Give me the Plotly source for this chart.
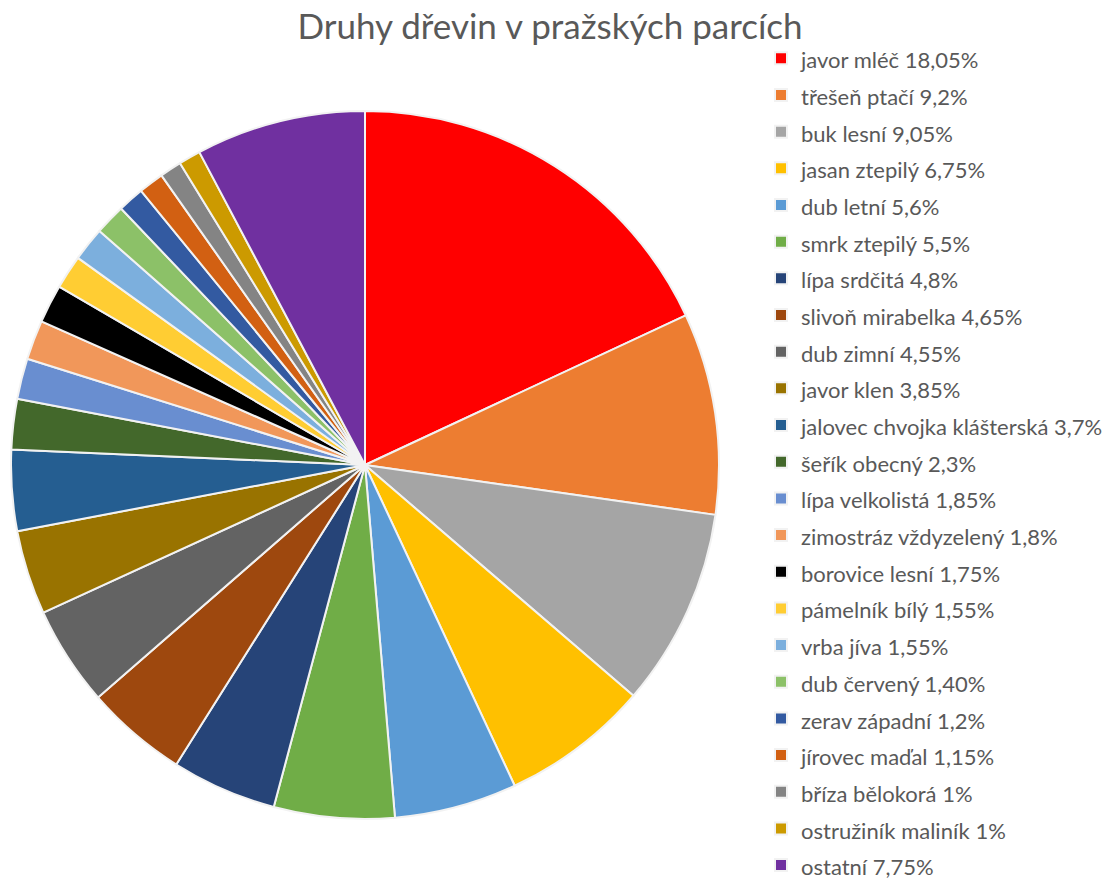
import plotly.graph_objects as go

species = [
    'javor mléč', 'třešeň ptačí', 'buk lesní', 'jasan ztepilý', 'dub letní',
    'smrk ztepilý', 'lípa srdčitá', 'slivoň mirabelka', 'dub zimní', 'javor klen',
    'jalovec chvojka klášterská', 'šeřík obecný', 'lípa velkolistá',
    'zimostráz vždyzelený', 'borovice lesní', 'pámelník bílý', 'vrba jíva',
    'dub červený', 'zerav západní', 'jírovec maďal', 'bříza bělokorá',
    'ostružiník maliník', 'ostatní',
]
shares = [18.05, 9.2, 9.05, 6.75, 5.6, 5.5, 4.8, 4.65, 4.55, 3.85, 3.7, 2.3,
          1.85, 1.8, 1.75, 1.55, 1.55, 1.40, 1.2, 1.15, 1, 1, 7.75]
share_text = ['18,05%', '9,2%', '9,05%', '6,75%', '5,6%', '5,5%', '4,8%', '4,65%',
              '4,55%', '3,85%', '3,7%', '2,3%', '1,85%', '1,8%', '1,75%', '1,55%',
              '1,55%', '1,40%', '1,2%', '1,15%', '1%', '1%', '7,75%']
colors = ['#FF0000', '#ED7D31', '#A5A5A5', '#FFC000', '#5B9BD5', '#70AD47',
          '#264478', '#9E480E', '#636363', '#997300', '#255E91', '#43682B',
          '#698ED0', '#F1975A', '#000000', '#FFCD33', '#7CAFDD', '#8CC168',
          '#335AA1', '#D26012', '#848484', '#CC9A00', '#7030A0']

W, H = 1114, 881

# legend row height comes from the legend font size, the visible text is smaller
labels = [f'<span style="font-size:22px">{s} {t}</span>' for s, t in zip(species, share_text)]

fig = go.Figure(go.Pie(
    labels=labels,
    values=shares,
    sort=False,
    direction='clockwise',
    rotation=0,
    textinfo='none',
    hovertemplate='%{label}<extra></extra>',
    marker=dict(colors=colors, line=dict(color='#F2F2F2', width=2)),
    domain=dict(x=[2 / W, 712 / W], y=[1 - 811 / H, 1 - 103 / H]),
))

fig.update_layout(
    width=W, height=H,
    margin=dict(l=0, r=0, t=0, b=0),
    paper_bgcolor='white',
    font=dict(family='Lato, Noto Sans, sans-serif', color='#595959'),
    title=dict(text='Druhy dřevin v pražských parcích', x=542 / W, xanchor='center',
               y=1 - 6 / H, yanchor='top',
               font=dict(size=35, color='#595959', family='Lato, Noto Sans, sans-serif')),
    legend=dict(x=753 / W, xanchor='left', y=1 - 54 / H, yanchor='top',
                font=dict(size=25.9, color='#595959'),
                bgcolor='rgba(0,0,0,0)', traceorder='normal'),
)

fig.write_html('out.html')
